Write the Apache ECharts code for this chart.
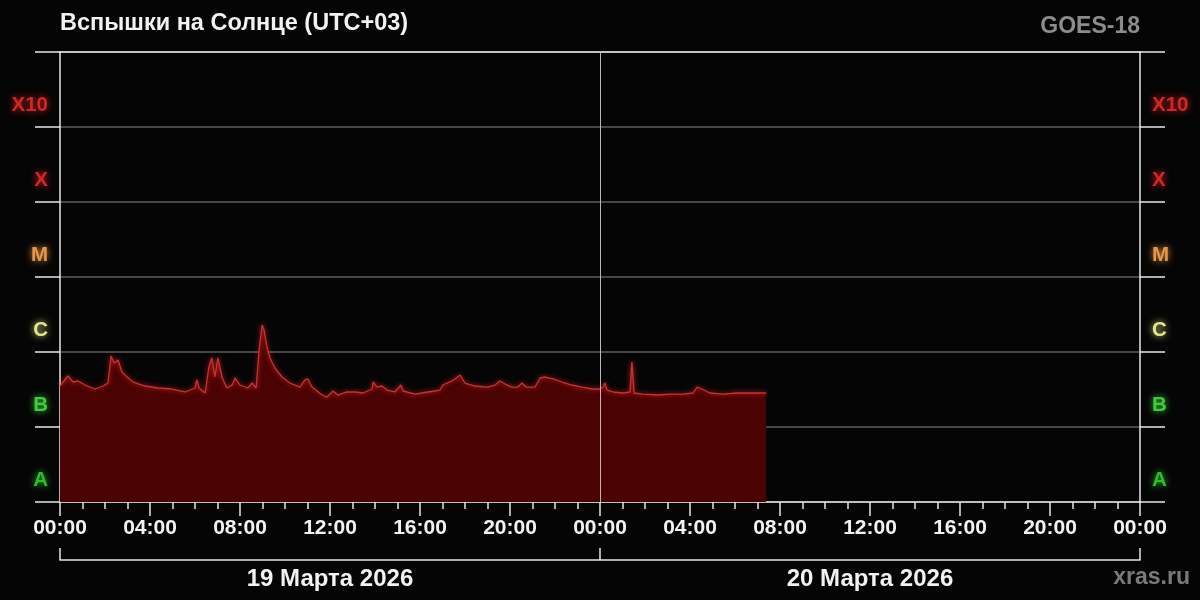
<!DOCTYPE html>
<html>
<head>
<meta charset="utf-8">
<script src="https://cdn.jsdelivr.net/npm/echarts@6/dist/echarts.min.js"></script>
<style>
html,body{margin:0;padding:0;background:#050505;}
#chart{width:1200px;height:600px;}
</style>
</head>
<body>
<div id="chart"></div>
<script>
// ---- data ----
const titleText = 'Вспышки на Солнце (UTC+03)';
const satelliteText = 'GOES-18';
const sourceText = 'xras.ru';
const dayLabels = ['19 Марта 2026', '20 Марта 2026'];
const classLabels = ['A', 'B', 'C', 'M', 'X', 'X10'];
const classColors = ['#2dbd2d', '#3ccc3c', '#e4e48a', '#e8944c', '#d42626', '#d42626'];

const times = [
  '2026-03-19 00:00','2026-03-19 00:21','2026-03-19 00:35','2026-03-19 00:48','2026-03-19 01:07',
  '2026-03-19 01:33','2026-03-19 01:55','2026-03-19 02:08','2026-03-19 02:16','2026-03-19 02:24',
  '2026-03-19 02:35','2026-03-19 02:45','2026-03-19 02:59','2026-03-19 03:15','2026-03-19 03:47',
  '2026-03-19 04:21','2026-03-19 04:59','2026-03-19 05:33','2026-03-19 06:00','2026-03-19 06:05',
  '2026-03-19 06:11','2026-03-19 06:27','2026-03-19 06:37','2026-03-19 06:45','2026-03-19 06:53',
  '2026-03-19 07:01','2026-03-19 07:12','2026-03-19 07:25','2026-03-19 07:39','2026-03-19 07:47',
  '2026-03-19 08:00','2026-03-19 08:21','2026-03-19 08:32','2026-03-19 08:43','2026-03-19 08:51',
  '2026-03-19 08:59','2026-03-19 09:04','2026-03-19 09:12','2026-03-19 09:20','2026-03-19 09:33',
  '2026-03-19 09:52','2026-03-19 10:13','2026-03-19 10:40','2026-03-19 10:53','2026-03-19 11:01',
  '2026-03-19 11:12','2026-03-19 11:39','2026-03-19 11:52','2026-03-19 12:08','2026-03-19 12:21',
  '2026-03-19 12:45','2026-03-19 13:07','2026-03-19 13:28','2026-03-19 13:52','2026-03-19 13:55',
  '2026-03-19 14:05','2026-03-19 14:19','2026-03-19 14:32','2026-03-19 14:53','2026-03-19 15:09',
  '2026-03-19 15:15','2026-03-19 15:47','2026-03-19 16:21','2026-03-19 16:53','2026-03-19 17:01',
  '2026-03-19 17:25','2026-03-19 17:47','2026-03-19 18:00','2026-03-19 18:27','2026-03-19 18:59',
  '2026-03-19 19:20','2026-03-19 19:33','2026-03-19 19:47','2026-03-19 20:05','2026-03-19 20:21',
  '2026-03-19 20:32','2026-03-19 20:43','2026-03-19 21:07','2026-03-19 21:20','2026-03-19 21:33',
  '2026-03-19 21:55','2026-03-19 22:19','2026-03-19 22:45','2026-03-19 23:12','2026-03-19 23:39',
  '2026-03-20 00:00','2026-03-20 00:08','2026-03-20 00:13','2026-03-20 00:19','2026-03-20 00:35',
  '2026-03-20 01:01','2026-03-20 01:20','2026-03-20 01:25','2026-03-20 01:31','2026-03-20 01:55',
  '2026-03-20 02:32','2026-03-20 03:07','2026-03-20 03:41','2026-03-20 04:08','2026-03-20 04:19',
  '2026-03-20 04:32','2026-03-20 04:53','2026-03-20 05:28','2026-03-20 06:05','2026-03-20 06:40',
  '2026-03-20 07:23'
];

// X-ray flux, W/m^2
const flux = [
  3.52e-7,4.79e-7,3.98e-7,4.11e-7,3.63e-7,
  3.21e-7,3.52e-7,3.86e-7,8.84e-7,7.13e-7,
  7.82e-7,5.41e-7,4.64e-7,3.98e-7,3.52e-7,
  3.31e-7,3.21e-7,2.93e-7,3.31e-7,4.24e-7,
  3.31e-7,2.84e-7,6.31e-7,8.32e-7,4.64e-7,
  8.32e-7,4.64e-7,3.31e-7,3.63e-7,4.50e-7,
  3.63e-7,3.31e-7,3.86e-7,3.31e-7,1.06e-6,
  2.29e-6,1.97e-6,1.17e-6,8.32e-7,6.12e-7,
  4.64e-7,3.86e-7,3.41e-7,4.24e-7,4.37e-7,
  3.41e-7,2.67e-7,2.51e-7,3.02e-7,2.67e-7,
  2.93e-7,2.93e-7,2.84e-7,3.21e-7,3.98e-7,
  3.41e-7,3.52e-7,3.11e-7,2.93e-7,3.63e-7,
  3.02e-7,2.75e-7,2.93e-7,3.11e-7,3.63e-7,
  4.11e-7,4.94e-7,3.86e-7,3.52e-7,3.41e-7,
  3.63e-7,4.11e-7,3.74e-7,3.41e-7,3.41e-7,
  3.86e-7,3.41e-7,3.41e-7,4.50e-7,4.64e-7,
  4.37e-7,3.98e-7,3.63e-7,3.41e-7,3.21e-7,
  3.21e-7,3.41e-7,3.86e-7,3.11e-7,2.93e-7,
  2.84e-7,2.93e-7,7.36e-7,2.84e-7,2.75e-7,
  2.67e-7,2.75e-7,2.75e-7,2.84e-7,3.41e-7,
  3.21e-7,2.84e-7,2.75e-7,2.84e-7,2.84e-7,
  2.84e-7
];

const startDay = 19;
const spanHours = 48;
const midnightHour = 24;

// ---- build ----
function toHours(s) {
  const d = parseInt(s.slice(8, 10), 10);
  const h = parseInt(s.slice(11, 13), 10);
  const m = parseInt(s.slice(14, 16), 10);
  return (d - startDay) * 24 + h + m / 60;
}
const seriesData = times.map((t, i) => [toHours(t), flux[i]]);

const fontFam = 'Liberation Sans, Arial, sans-serif';

function makeRich() {
  const rich = {};
  classLabels.forEach((l, i) => {
    rich['c' + i] = {
      color: classColors[i], fontSize: 20.5, fontWeight: 'bold', fontFamily: fontFam,
      textShadowColor: classColors[i], textShadowBlur: 7
    };
  });
  return rich;
}
function classFormatter(v) {
  const i = Math.round(Math.log10(v)) + 8;
  if (i < 0 || i >= classLabels.length) return '';
  return '{c' + i + '|' + classLabels[i] + '}';
}

function makeYAxis(position, showSplit) {
  return {
    type: 'log', logBase: 10, min: 1e-8, max: 1e-2, splitNumber: 6,
    position: position,
    axisLine: { show: true, onZero: false, lineStyle: { color: '#e8e8e8', width: 1.5 } },
    axisTick: { show: true, inside: false, length: 25, lineStyle: { color: '#e8e8e8', width: 1.5 } },
    minorTick: { show: false },
    axisLabel: {
      formatter: classFormatter, rich: makeRich(), verticalAlign: 'bottom',
      padding: [0, 0, 11, 0], margin: 12, showMinLabel: true, showMaxLabel: true
    },
    splitLine: { show: showSplit, lineStyle: { color: '#5c5c5c', width: 1.5 } }
  };
}

const chart = echarts.init(document.getElementById('chart'), null, { renderer: 'canvas' });
chart.setOption({
  backgroundColor: '#050505',
  animation: false,
  title: [
    { text: titleText, left: 60, top: 12, padding: 0,
      textStyle: { color: '#f2f2f2', fontSize: 23.5, fontWeight: 'bold', fontFamily: fontFam } },
    { text: satelliteText, right: 60, top: 15, padding: 0,
      textStyle: { color: '#8c8c8c', fontSize: 23, fontWeight: 'bold', fontFamily: fontFam } },
    { text: sourceText, right: 10, top: 566, padding: 0,
      textStyle: { color: '#7a7a7a', fontSize: 23, fontWeight: 'bold', fontFamily: fontFam } }
  ],
  grid: { left: 60, right: 60, top: 52, bottom: 98 },
  xAxis: [
    {
      type: 'value', min: 0, max: spanHours, interval: 4, position: 'bottom',
      axisLine: { show: true, onZero: false, lineStyle: { color: '#e8e8e8', width: 1.5 } },
      axisTick: { show: true, length: 14, lineStyle: { color: '#e8e8e8', width: 1.5 } },
      minorTick: { show: true, splitNumber: 4, length: 7, lineStyle: { color: '#e8e8e8', width: 1.5 } },
      splitLine: { show: false },
      axisLabel: {
        color: '#f2f2f2', fontSize: 21, fontWeight: 'bold', fontFamily: fontFam, margin: 16,
        showMinLabel: true, showMaxLabel: true,
        formatter: v => String(v % 24).padStart(2, '0') + ':00'
      }
    },
    {
      type: 'value', min: 0, max: spanHours, position: 'top',
      axisLine: { show: true, onZero: false, lineStyle: { color: '#e8e8e8', width: 1.5 } },
      axisTick: { show: false }, axisLabel: { show: false }, splitLine: { show: false }
    },
    {
      type: 'category', data: dayLabels, position: 'bottom', offset: 58, boundaryGap: true,
      axisLine: { show: true, onZero: false, lineStyle: { color: '#e8e8e8', width: 1.5 } },
      axisTick: { show: true, inside: true, length: 12, lineStyle: { color: '#e8e8e8', width: 1.5 } },
      axisLabel: { color: '#f2f2f2', fontSize: 24, fontWeight: 'bold', fontFamily: fontFam, margin: 7 },
      splitLine: { show: false }
    }
  ],
  yAxis: [makeYAxis('left', true), makeYAxis('right', false)],
  series: [
    {
      type: 'line', xAxisIndex: 0, yAxisIndex: 0, data: seriesData,
      showSymbol: false, symbol: 'none', smooth: false,
      lineStyle: { color: '#c83232', width: 1.3, shadowColor: 'rgba(255,50,50,0.9)', shadowBlur: 5 },
      areaStyle: { origin: 'start', color: '#4a0202', opacity: 1 },
      markLine: {
        silent: true, symbol: 'none', label: { show: false },
        lineStyle: { color: '#b8b8b8', width: 1, type: 'solid' },
        data: [{ xAxis: midnightHour }]
      },
      z: 3
    }
  ]
});
</script>
</body>
</html>
